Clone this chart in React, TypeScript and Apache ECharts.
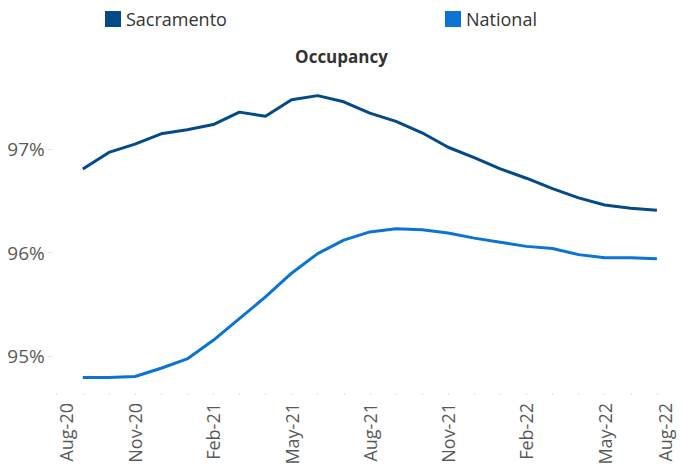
import React, { useEffect, useRef } from "react";
import * as echarts from "echarts";

const axisMonths = [
  "Aug-20", "Sep-20", "Oct-20", "Nov-20", "Dec-20", "Jan-21", "Feb-21", "Mar-21", "Apr-21",
  "May-21", "Jun-21", "Jul-21", "Aug-21", "Sep-21", "Oct-21", "Nov-21", "Dec-21", "Jan-22",
  "Feb-22", "Mar-22", "Apr-22", "May-22", "Jun-22", "Jul-22", "Aug-22",
];

const dataMonths = [
  "Sep-20", "Oct-20", "Nov-20", "Dec-20", "Jan-21", "Feb-21", "Mar-21", "Apr-21",
  "May-21", "Jun-21", "Jul-21", "Aug-21", "Sep-21", "Oct-21", "Nov-21", "Dec-21", "Jan-22",
  "Feb-22", "Mar-22", "Apr-22", "May-22", "Jun-22", "Jul-22",
];

const sacramento = [
  96.81, 96.97, 97.05, 97.15, 97.19, 97.24, 97.36, 97.32, 97.48, 97.52, 97.46, 97.35,
  97.27, 97.16, 97.02, 96.92, 96.81, 96.72, 96.62, 96.53, 96.46, 96.43, 96.41,
];

const national = [
  94.79, 94.79, 94.8, 94.88, 94.97, 95.15, 95.36, 95.57, 95.8, 95.99, 96.12, 96.2,
  96.23, 96.22, 96.19, 96.14, 96.1, 96.06, 96.04, 95.98, 95.95, 95.95, 95.94,
];

const yTicks = [95, 96, 97];

const SAC_COLOR = "#034a86";
const NAT_COLOR = "#0b74d3";
const FONT = "Open Sans";

export default function App() {
  const ref = useRef<HTMLDivElement>(null);

  useEffect(() => {
    document.body.style.margin = "0";
    if (!ref.current) return;
    const chart = echarts.init(ref.current, null, { renderer: "svg" });
    const lastIdx = axisMonths.length - 1;
    const categoryData = axisMonths.map((m, i) => {
      if (i === 0) return { value: m, textStyle: { verticalAlign: "top" } };
      if (i === lastIdx)
        return {
          value: m,
          textStyle: { verticalAlign: "bottom", lineHeight: 16, padding: [0, 0, 10, 0] },
        };
      return m;
    });
    chart.setOption({
      animation: false,
      backgroundColor: "#ffffff",
      title: {
        text: "Occupancy",
        left: "center",
        top: 43,
        textStyle: { fontFamily: FONT, fontSize: 17, fontWeight: "bold", color: "#333333" },
      },
      legend: [
        {
          data: ["Sacramento"],
          left: 100,
          top: 5,
          icon: "rect",
          itemWidth: 16,
          itemHeight: 16,
          textStyle: { fontFamily: FONT, fontSize: 18, color: "#333333" },
        },
        {
          data: ["National"],
          left: 440,
          top: 5,
          icon: "rect",
          itemWidth: 16,
          itemHeight: 16,
          textStyle: { fontFamily: FONT, fontSize: 18, color: "#333333" },
        },
      ],
      grid: { left: 56.7, right: -5, top: 66.7, bottom: 76 },
      xAxis: {
        type: "category",
        data: categoryData,
        boundaryGap: false,
        axisLine: { show: false },
        axisTick: {
          show: true,
          interval: 0,
          length: 2,
          lineStyle: { color: "#e3e3e3" },
        },
        axisLabel: {
          interval: 2,
          rotate: 90,
          margin: 10,
          fontFamily: FONT,
          fontSize: 18,
          color: "#595959",
        },
        splitLine: { show: false },
      },
      yAxis: {
        type: "value",
        min: 94.64,
        max: 97.8,
        offset: 4,
        axisLine: { show: false },
        axisTick: {
          show: true,
          length: 5,
          customValues: yTicks,
          lineStyle: { color: "#e3e3e3" },
        },
        axisLabel: {
          customValues: yTicks,
          margin: 8,
          fontFamily: FONT,
          fontSize: 19,
          color: "#595959",
          formatter: (v: number) => Math.round(v) + "%",
        },
        splitLine: { show: false },
      },
      series: [
        {
          name: "Sacramento",
          type: "line",
          data: dataMonths.map((m, i) => [m, sacramento[i]]),
          showSymbol: false,
          symbol: "none",
          lineStyle: { width: 3, color: SAC_COLOR },
          itemStyle: { color: SAC_COLOR },
        },
        {
          name: "National",
          type: "line",
          data: dataMonths.map((m, i) => [m, national[i]]),
          showSymbol: false,
          symbol: "none",
          lineStyle: { width: 3, color: NAT_COLOR },
          itemStyle: { color: NAT_COLOR },
        },
      ],
    });
    return () => chart.dispose();
  }, []);

  return <div ref={ref} style={{ width: 683, height: 469 }} />;
}
